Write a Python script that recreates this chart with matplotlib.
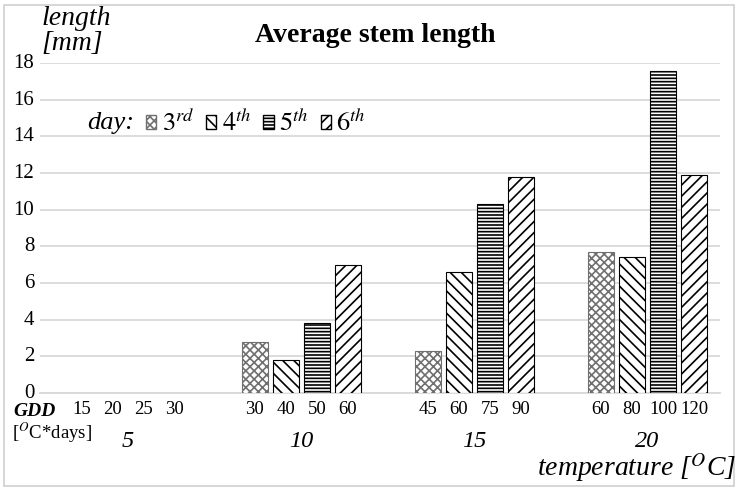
import matplotlib
matplotlib.use('Agg')
import matplotlib.pyplot as plt
import matplotlib.transforms as mtransforms
from matplotlib.patches import Patch, Rectangle
import numpy as np

# data
temperatures = ['5', '10', '15', '20']
days = [r'$\mathit{3}^{rd}$', r'$\mathit{4}^{th}$', r'$\mathit{5}^{th}$', r'$\mathit{6}^{th}$']
gdd_labels = [['15', '20', '25', '30'],
              ['30', '40', '50', '60'],
              ['45', '60', '75', '90'],
              ['60', '80', '100', '120']]
day3 = [0, 2.8, 2.3, 7.7]
day4 = [0, 1.8, 6.6, 7.4]
day5 = [0, 3.8, 10.3, 17.6]
day6 = [0, 7.0, 11.8, 11.9]

plt.rcParams['font.family'] = ['Liberation Serif', 'DejaVu Serif']
plt.rcParams['mathtext.fontset'] = 'stix'
plt.rcParams['hatch.linewidth'] = 1.2

fig = plt.figure(figsize=(7.38, 4.9), dpi=100)
ax = fig.add_axes([0.054, 0.198, 0.922, 0.673])

# light frame round the chart
fig.patches.append(Rectangle((0.005, 0.008), 0.99, 0.982, transform=fig.transFigure,
                             fill=False, edgecolor='#d0d0d0', linewidth=1.2))

series = [day3, day4, day5, day6]
hatches = ['xxxx', '\\\\\\', '-----', '///']
edges = ['#707070', 'black', 'black', 'black']
width = 0.15
pitch = 0.18
groups = np.arange(len(temperatures))

positions = []
labels = []
for g in groups:
    for k in range(4):
        positions.append(g + (k - 1.5) * pitch)
        labels.append(gdd_labels[g][k])

for k, vals in enumerate(series):
    xs = groups + (k - 1.5) * pitch
    for x, v in zip(xs, vals):
        if v > 0:
            ax.bar(x, v, width=width, color='white', edgecolor=edges[k],
                   hatch=hatches[k], linewidth=0.8, zorder=3)

ax.set_ylim(0, 18)
ax.set_xlim(-0.51, 3.42)
ax.set_yticks(np.arange(0, 19, 2))
ax.yaxis.grid(True, color='#d9d9d9', linewidth=1.3)
ax.set_axisbelow(True)
for s in ['top', 'right', 'left']:
    ax.spines[s].set_visible(False)
ax.spines['bottom'].set_color('#d9d9d9')
ax.spines['bottom'].set_linewidth(1.3)
ax.tick_params(axis='y', length=0, labelsize=15, pad=4)
# y labels sit a touch above their gridlines, as in the original
shift = mtransforms.ScaledTranslation(0, 1.5 / 72, fig.dpi_scale_trans)
for lab in ax.get_yticklabels():
    lab.set_transform(lab.get_transform() + shift)
ax.set_xticks(positions, labels)
ax.tick_params(axis='x', length=0, labelsize=13.5, pad=6)

for g, t in zip(groups, temperatures):
    ax.text(g, -0.148, t, transform=ax.get_xaxis_transform(), ha='center', va='center',
            fontsize=17.5, style='italic')

# axis texts
fig.text(0.056, 0.962, 'length', fontsize=20, style='italic', va='center')
fig.text(0.056, 0.912, '[mm]', fontsize=20, style='italic', va='center')
fig.text(0.508, 0.928, 'Average stem length', fontsize=20, weight='bold', ha='center', va='center')
fig.text(0.018, 0.160, 'GDD', fontsize=14, weight='bold', style='italic', va='center')
fig.text(0.016, 0.117, r'[$^{O}$C*days]', fontsize=13.5, va='center')
fig.text(0.997, 0.046, r'temperature [$^{O}$C]', fontsize=20, style='italic', ha='right', va='center')

# legend
ax.text(0.07, 0.82, 'day:', transform=ax.transAxes, fontsize=19, style='italic', va='center')
handles = [Patch(facecolor='white', edgecolor=edges[k], hatch=hatches[k], label=days[k])
           for k in range(4)]
ax.legend(handles=handles, ncol=4, loc='center left', bbox_to_anchor=(0.14, 0.82),
          frameon=False, fontsize=19, handlelength=0.4, handleheight=0.4,
          handletextpad=0.2, columnspacing=0.45, borderaxespad=0)

fig.savefig('out.png', dpi=100)
